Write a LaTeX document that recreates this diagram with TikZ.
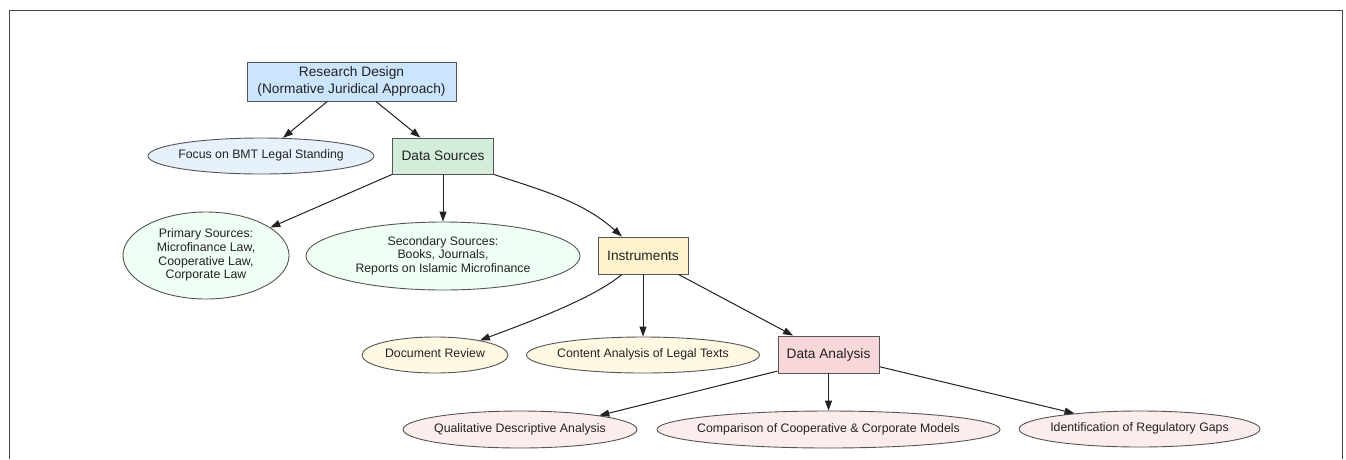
\documentclass[tikz,border=0pt]{standalone}
\usepackage{fontspec}
\setmainfont{Liberation Sans}
\usetikzlibrary{arrows.meta,shapes.geometric}
\definecolor{rdfill}{HTML}{CCE5FF}
\definecolor{focusfill}{HTML}{E7F0FD}
\definecolor{dsfill}{HTML}{D4EDDA}
\definecolor{srcfill}{HTML}{F0FFF4}
\definecolor{insfill}{HTML}{FFF3CD}
\definecolor{insoval}{HTML}{FFF8E3}
\definecolor{dafill}{HTML}{F8D7DA}
\definecolor{daoval}{HTML}{FDECEC}
\definecolor{bordercol}{HTML}{555555}
\definecolor{edgecol}{HTML}{222222}
\definecolor{txt}{HTML}{222222}
\definecolor{framecol}{HTML}{444444}
\newcommand{\zw}[1]{\makebox[0pt][c]{\begin{tabular}{@{}c@{}}#1\end{tabular}}}
\begin{document}
\begin{tikzpicture}[x=1pt,y=-1pt,
  rbox/.style={draw=bordercol, line width=0.9pt, rectangle, inner sep=0pt,
    font=\fontsize{13.7}{16.7}\selectfont, text=txt, align=center},
  oval/.style={draw=bordercol, line width=0.9pt, ellipse, inner sep=0pt,
    font=\fontsize{12.3}{13.6}\selectfont, text=txt},
  arr/.style={draw=edgecol, line width=1pt, -{Triangle[length=10pt,width=7pt]}}]
\useasboundingbox (0,0) rectangle (1346,459);
\fill[white] (0,0) rectangle (1346,459);
\draw[framecol, line width=1pt] (9.5,459) -- (9.5,10) -- (1342.5,10) -- (1342.5,459);

\node[rbox, fill=rdfill, minimum width=209pt, minimum height=39pt] (rd) at (351.5,81.5)
  {Research Design\\(Normative Juridical Approach)};
\node[oval, fill=focusfill, minimum width=226pt, minimum height=36pt] (focus) at (261,156)
  {\zw{Focus on BMT Legal Standing}};
\node[rbox, fill=dsfill, minimum width=101pt, minimum height=36pt] (ds) at (443,156)
  {Data Sources};
\node[oval, fill=srcfill, minimum width=166pt, minimum height=87pt] (prim) at (206,255.5)
  {\zw{Primary Sources:\\Microfinance Law,\\Cooperative Law,\\Corporate Law}};
\node[oval, fill=srcfill, minimum width=274pt, minimum height=68pt] (sec) at (443,256)
  {\zw{Secondary Sources:\\Books, Journals,\\Reports on Islamic Microfinance}};
\node[rbox, fill=insfill, minimum width=90pt, minimum height=37pt] (ins) at (643,255.5)
  {Instruments};
\node[oval, fill=insoval, minimum width=146pt, minimum height=36pt] (doc) at (435,355)
  {\zw{Document Review}};
\node[oval, fill=insoval, minimum width=233pt, minimum height=36pt] (cont) at (643,355)
  {\zw{Content Analysis of Legal Texts}};
\node[rbox, fill=dafill, minimum width=101pt, minimum height=37pt] (da) at (828.5,354.5)
  {Data Analysis};
\node[oval, fill=daoval, minimum width=234pt, minimum height=37pt] (qual) at (520,429.5)
  {\zw{Qualitative Descriptive Analysis}};
\node[oval, fill=daoval, minimum width=343pt, minimum height=37pt] (comp) at (828.5,429.5)
  {\zw{Comparison of Cooperative \& Corporate Models}};
\node[oval, fill=daoval, minimum width=241pt, minimum height=36pt] (iden) at (1139.5,429)
  {\zw{Identification of Regulatory Gaps}};

\draw[arr] (rd) -- (focus);
\draw[arr] (rd) -- (ds);
\draw[arr] (ds.south west) -- (prim);
\draw[arr] (ds) -- (sec);
\draw[arr] (ds.south east) .. controls +(45,15) and +(-40,-36) .. (ins.138);
\draw[arr] (ins.-138) .. controls +(-30,25) and +(45,-17) .. (doc.18);
\draw[arr] (ins) -- (cont);
\draw[arr] (ins) -- (da);
\draw[arr] (da.198) -- (qual.10);
\draw[arr] (da) -- (comp);
\draw[arr] (da) -- (iden);
\end{tikzpicture}
\end{document}
